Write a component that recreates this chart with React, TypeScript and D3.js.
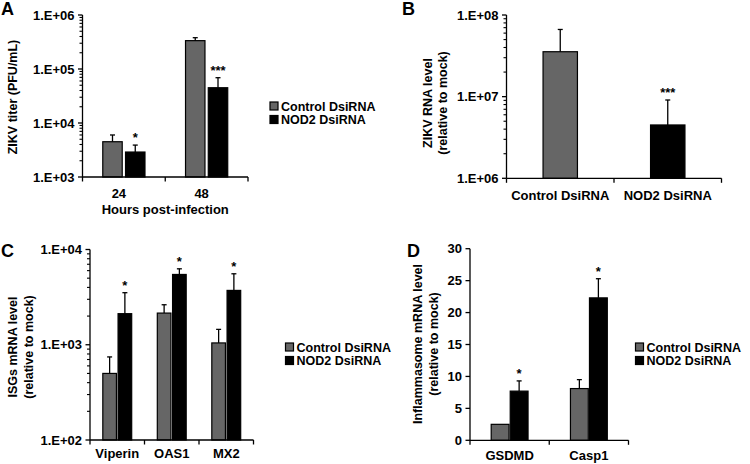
import React from "react";
import * as d3 from "d3";

// ---------- DATA ----------
const GRAY = "#666666";
const BLACK = "#000000";
const seriesNames = ["Control DsiRNA", "NOD2 DsiRNA"];

// Panel A
const aCategories = ["24", "48"];
const aControl = [4500, 335000];
const aControlErr = [1500, 45000];
const aNod2 = [2900, 45000];
const aNod2Err = [1000, 24000];
const aStars = ["*", "***"];

// Panel B
const bCategories = ["Control DsiRNA", "NOD2 DsiRNA"];
const bValues = [35500000, 4500000];
const bErr = [31000000, 4600000];
const bStars = ["", "***"];

// Panel C
const cCategories = ["Viperin", "OAS1", "MX2"];
const cControl = [500, 2150, 1045];
const cControlErr = [245, 480, 405];
const cNod2 = [2120, 5470, 3720];
const cNod2Err = [1400, 800, 1840];
const cStars = ["*", "*", "*"];

// Panel D
const dCategories = ["GSDMD", "Casp1"];
const dControl = [2.5, 8.1];
const dControlErr = [0, 1.4];
const dNod2 = [7.7, 22.3];
const dNod2Err = [1.6, 3.0];
const dStars = ["*", "*"];
const dTicks = [0, 5, 10, 15, 20, 25, 30];

const FONT = "'Liberation Sans', Arial, Helvetica, sans-serif";

type Series = { values: number[]; errors: number[]; fills: string[] };
type Cfg = {
  letter: string;
  letterX: number;
  letterY: number;
  x0: number;
  x1: number;
  yTop: number;
  yBottom: number;
  log: boolean;
  domain: [number, number];
  linTicks?: number[];
  categories: string[];
  series: Series[];
  stars: string[];
  barFrac: number;
  gapFrac: number;
  labelBaseline: number;
  labelDx: number;
  titleLines: string[];
  titleXs: number[];
  titleCy: number;
  xTitle?: string;
  xTitleBaseline?: number;
  legend?: { x: number; y: number };
};

function fmtExp(v: number) {
  const e = Math.round(Math.log10(v));
  return `1.E+${String(e).padStart(2, "0")}`;
}

function Panel({ cfg }: { cfg: Cfg }) {
  const y: any = cfg.log
    ? d3.scaleLog().domain(cfg.domain).range([cfg.yBottom, cfg.yTop])
    : d3.scaleLinear().domain(cfg.domain).range([cfg.yBottom, cfg.yTop]);
  const x = d3.scaleBand().domain(cfg.categories).range([cfg.x0, cfg.x1]).padding(0);
  const bw = x.bandwidth();
  const n = cfg.series.length;
  const barW = bw * cfg.barFrac;
  const gap = bw * cfg.gapFrac;
  const groupW = n * barW + (n - 1) * gap;

  let majors: number[] = [];
  let minors: number[] = [];
  if (cfg.log) {
    const e0 = Math.round(Math.log10(cfg.domain[0]));
    const e1 = Math.round(Math.log10(cfg.domain[1]));
    for (let e = e0; e <= e1; e++) {
      majors.push(Math.pow(10, e));
      if (e < e1) for (let k = 2; k <= 9; k++) minors.push(k * Math.pow(10, e));
    }
  } else {
    majors = cfg.linTicks || [];
  }
  const boundaries = [cfg.x0, ...cfg.categories.map((c) => (x(c) as number) + bw)];

  return (
    <g fontFamily={FONT} fontWeight={700} fill="#000">
      <text x={cfg.letterX} y={cfg.letterY} fontSize={18} fontWeight={700}>
        {cfg.letter}
      </text>
      {cfg.categories.map((c, i) => {
        const cx = (x(c) as number) + bw / 2;
        const start = cx - groupW / 2;
        let topMost = Infinity;
        const els = cfg.series.map((s, si) => {
          const bx = start + si * (barW + gap);
          const v = s.values[i];
          const yTop = y(v);
          const yErr = y(v + s.errors[i]);
          if (si === n - 1) topMost = yErr;
          return (
            <g key={si}>
              <rect
                x={bx}
                y={yTop}
                width={barW}
                height={cfg.yBottom - yTop}
                fill={s.fills[i]}
                stroke="#000"
                strokeWidth={1.2}
              />
              {s.errors[i] > 0 && (
                <g stroke="#000" strokeWidth={1.3}>
                  <line x1={bx + barW / 2} x2={bx + barW / 2} y1={yTop} y2={yErr} />
                  <line x1={bx + barW / 2 - 2.5} x2={bx + barW / 2 + 2.5} y1={yErr} y2={yErr} />
                </g>
              )}
            </g>
          );
        });
        const lastX = start + (n - 1) * (barW + gap) + barW / 2;
        return (
          <g key={c}>
            {els}
            {cfg.stars[i] && (
              <text x={lastX} y={topMost - 3} fontSize={13} fontWeight={700} textAnchor="middle">
                {cfg.stars[i]}
              </text>
            )}
            <text x={cx + cfg.labelDx} y={cfg.labelBaseline} fontSize={13} fontWeight={700} textAnchor="middle">
              {c}
            </text>
          </g>
        );
      })}
      {/* y axis */}
      <line x1={cfg.x0} x2={cfg.x0} y1={cfg.yTop} y2={cfg.yBottom} stroke="#000" strokeWidth={1.3} />
      {majors.map((t) => (
        <g key={"M" + t}>
          <line x1={cfg.x0 - 4.5} x2={cfg.x0} y1={y(t)} y2={y(t)} stroke="#000" strokeWidth={1.3} />
          <text x={cfg.x0 - 8} y={y(t)} dy="0.36em" fontSize={13} fontWeight={700} textAnchor="end">
            {cfg.log ? fmtExp(t) : String(t)}
          </text>
        </g>
      ))}
      {minors.map((t) => (
        <line key={"m" + t} x1={cfg.x0 - 3} x2={cfg.x0} y1={y(t)} y2={y(t)} stroke="#000" strokeWidth={1.1} />
      ))}
      {/* x axis */}
      <line x1={cfg.x0} x2={cfg.x1} y1={cfg.yBottom} y2={cfg.yBottom} stroke="#000" strokeWidth={1.3} />
      {boundaries.map((b, i) => (
        <line key={"b" + i} x1={b} x2={b} y1={cfg.yBottom} y2={cfg.yBottom + 4.5} stroke="#000" strokeWidth={1.3} />
      ))}
      {/* y title */}
      {cfg.titleLines.map((t, i) => (
        <text
          key={t}
          transform={`translate(${cfg.titleXs[i]},${cfg.titleCy}) rotate(-90)`}
          dy="0.36em"
          fontSize={12.5}
          fontWeight={700}
          textAnchor="middle"
        >
          {t}
        </text>
      ))}
      {cfg.xTitle && (
        <text x={(cfg.x0 + cfg.x1) / 2} y={cfg.xTitleBaseline} fontSize={13} fontWeight={700} textAnchor="middle">
          {cfg.xTitle}
        </text>
      )}
      {cfg.legend &&
        seriesNames.map((nm, i) => (
          <g key={nm} transform={`translate(${cfg.legend!.x},${cfg.legend!.y + i * 13.5})`}>
            <rect x={0} y={-8} width={8} height={8} fill={i === 0 ? GRAY : BLACK} stroke="#000" strokeWidth={1.2} />
            <text x={11} y={0.5} fontSize={12.5} fontWeight={700}>
              {nm}
            </text>
          </g>
        ))}
    </g>
  );
}

const panels: Cfg[] = [
  {
    letter: "A",
    letterX: 1,
    letterY: 14.5,
    x0: 82.5,
    x1: 248,
    yTop: 15,
    yBottom: 177,
    log: true,
    domain: [1e3, 1e6],
    categories: aCategories,
    series: [
      { values: aControl, errors: aControlErr, fills: aCategories.map(() => GRAY) },
      { values: aNod2, errors: aNod2Err, fills: aCategories.map(() => BLACK) },
    ],
    stars: aStars,
    barFrac: 0.235,
    gapFrac: 0.04,
    labelBaseline: 198,
    labelDx: -5,
    titleLines: ["ZIKV titer (PFU/mL)"],
    titleXs: [12],
    titleCy: 97,
    xTitle: "Hours post-infection",
    xTitleBaseline: 214,
    legend: { x: 270, y: 110 },
  },
  {
    letter: "B",
    letterX: 402,
    letterY: 15,
    x0: 506.5,
    x1: 721.5,
    yTop: 15,
    yBottom: 178.3,
    log: true,
    domain: [1e6, 1e8],
    categories: bCategories,
    series: [{ values: bValues, errors: bErr, fills: [GRAY, BLACK] }],
    stars: bStars,
    barFrac: 0.32,
    gapFrac: 0,
    labelBaseline: 200,
    labelDx: 0,
    titleLines: ["ZIKV RNA level", "(relative to mock)"],
    titleXs: [427, 442.5],
    titleCy: 103,
    legend: undefined,
  },
  {
    letter: "C",
    letterX: 1,
    letterY: 257,
    x0: 90,
    x1: 253.5,
    yTop: 249.5,
    yBottom: 440,
    log: true,
    domain: [1e2, 1e4],
    categories: cCategories,
    series: [
      { values: cControl, errors: cControlErr, fills: cCategories.map(() => GRAY) },
      { values: cNod2, errors: cNod2Err, fills: cCategories.map(() => BLACK) },
    ],
    stars: cStars,
    barFrac: 0.25,
    gapFrac: 0.03,
    labelBaseline: 458,
    labelDx: 0,
    titleLines: ["ISGs mRNA level", "(relative to mock)"],
    titleXs: [12, 28],
    titleCy: 347,
    legend: { x: 285.5, y: 351 },
  },
  {
    letter: "D",
    letterX: 407,
    letterY: 257,
    x0: 470,
    x1: 628.5,
    yTop: 248.7,
    yBottom: 440.3,
    log: false,
    domain: [0, 30],
    linTicks: dTicks,
    categories: dCategories,
    series: [
      { values: dControl, errors: dControlErr, fills: dCategories.map(() => GRAY) },
      { values: dNod2, errors: dNod2Err, fills: dCategories.map(() => BLACK) },
    ],
    stars: dStars,
    barFrac: 0.225,
    gapFrac: 0.015,
    labelBaseline: 460,
    labelDx: 0,
    titleLines: ["Inflammasome mRNA level", "(relative to mock)"],
    titleXs: [417, 433],
    titleCy: 344,
    legend: { x: 635.5, y: 351 },
  },
];

export default function App() {
  return (
    <svg
      width={750}
      height={464}
      viewBox="0 0 750 464"
      style={{ position: "absolute", left: 0, top: 0, background: "#fff" }}
    >
      <rect x={0} y={0} width={750} height={464} fill="#fff" />
      {panels.map((p) => (
        <Panel key={p.letter} cfg={p} />
      ))}
    </svg>
  );
}
